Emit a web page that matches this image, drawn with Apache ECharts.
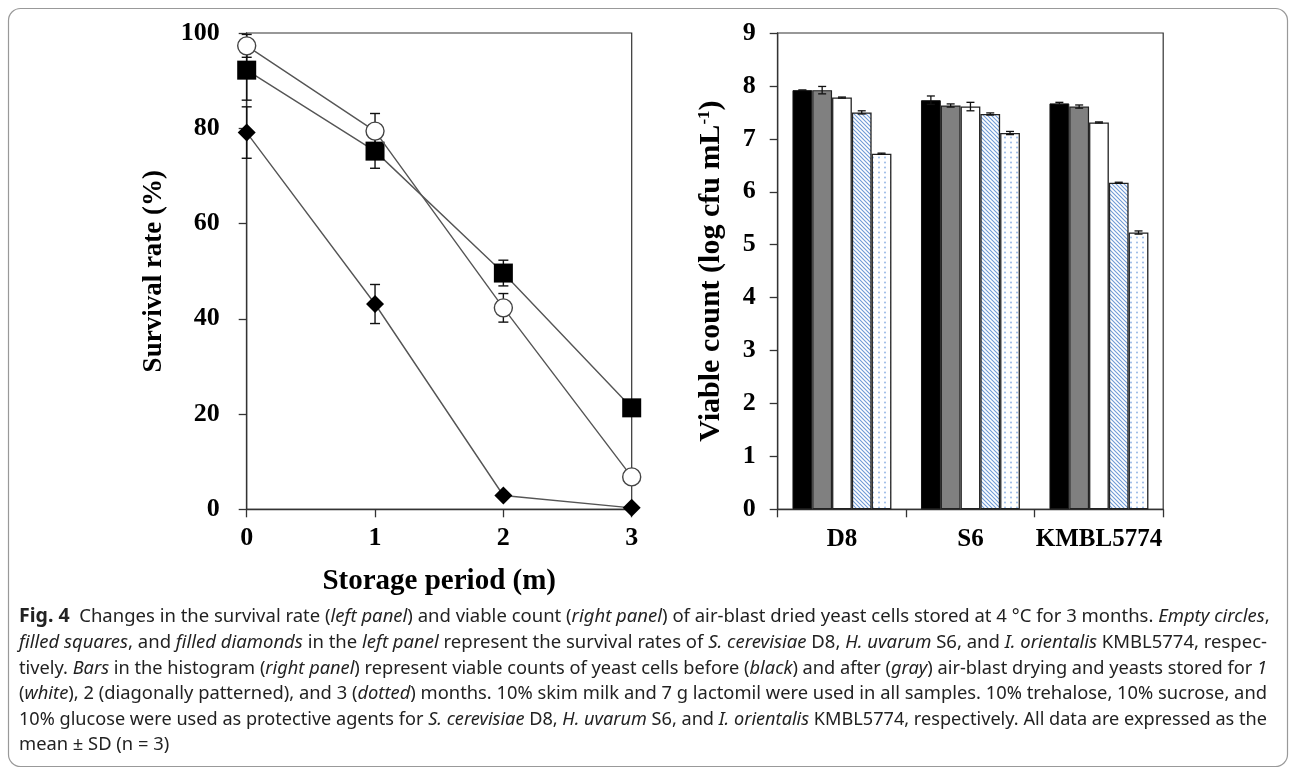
<!DOCTYPE html>
<html><head><meta charset="utf-8">
<script src="https://cdn.jsdelivr.net/npm/echarts@6/dist/echarts.min.js"></script>
<style>html,body{margin:0;padding:0;background:#fff}#c{width:1295px;height:774px}</style>
</head><body><div id="c"></div>
<script>
// ---- Left panel data (survival rate, %) ----
const months = [0, 1, 2, 3];
const survivalD8 = [97.3, 79.4, 42.3, 6.8];      // empty circles
const survivalD8Err = [2.4, 3.7, 3.0, 0.4];
const survivalS6 = [92.2, 75.2, 49.6, 21.3];     // filled squares
const survivalS6Err = [6.3, 3.6, 2.7, 0.4];
const survivalKMBL = [79.1, 43.1, 2.9, 0.3];     // filled diamonds
const survivalKMBLErr = [5.4, 4.1, 0.5, 0.3];
const survivalTicks = [0, 20, 40, 60, 80, 100];

// ---- Right panel data (viable count, log cfu/mL) ----
const strains = ['D8', 'S6', 'KMBL5774'];
const countBefore = [7.92, 7.73, 7.67];
const countBeforeErr = [0.00, 0.08, 0.02];
const countAfter = [7.92, 7.63, 7.61];
const countAfterErr = [0.07, 0.03, 0.03];
const countMonth1 = [7.78, 7.61, 7.31];
const countMonth1Err = [0.01, 0.08, 0.01];
const countMonth2 = [7.50, 7.47, 6.17];
const countMonth2Err = [0.03, 0.02, 0.01];
const countMonth3 = [6.72, 7.11, 5.23];
const countMonth3Err = [0.01, 0.03, 0.03];

// ---- Caption ----
const captionLines = [
  '{b|Fig. 4}  Changes in the survival rate ({i|left panel}) and viable count ({i|right panel}) of air-blast dried yeast cells stored at 4 °C for 3 months. {i|Empty circles},',
  '{i|filled squares}, and {i|filled diamonds} in the {i|left panel} represent the survival rates of {i|S. cerevisiae} D8, {i|H. uvarum} S6, and {i|I. orientalis} KMBL5774, respec-',
  'tively. {i|Bars} in the histogram ({i|right panel}) represent viable counts of yeast cells before ({i|black}) and after ({i|gray}) air-blast drying and yeasts stored for {i|1}',
  '({i|white}), 2 (diagonally patterned), and 3 ({i|dotted}) months. 10% skim milk and 7 g lactomil were used in all samples. 10% trehalose, 10% sucrose, and',
  '10% glucose were used as protective agents for {i|S. cerevisiae} D8, {i|H. uvarum} S6, and {i|I. orientalis} KMBL5774, respectively. All data are expressed as the',
  'mean ± SD (n = 3)'
];

const SERIF = '"Liberation Serif", "Times New Roman", serif';
const SANS = '"Noto Sans", "Open Sans", sans-serif';
const CAP_SIZE = 18;

function makePattern(kind) {
  const c = document.createElement('canvas');
  const ctx = c.getContext('2d');
  if (kind === 'hatch') {
    c.width = 4; c.height = 4;
    ctx.fillStyle = '#fff'; ctx.fillRect(0, 0, 4, 4);
    ctx.strokeStyle = '#6f9ad6'; ctx.lineWidth = 1.1;
    ctx.beginPath();
    ctx.moveTo(-1, -1); ctx.lineTo(5, 5);
    ctx.moveTo(-1, 3); ctx.lineTo(1, 5);
    ctx.moveTo(3, -1); ctx.lineTo(5, 1);
    ctx.stroke();
  } else {
    c.width = 6; c.height = 5;
    ctx.fillStyle = '#fff'; ctx.fillRect(0, 0, 6, 5);
    ctx.fillStyle = '#8fb2e4';
    ctx.beginPath(); ctx.arc(3, 2.5, 0.9, 0, Math.PI * 2); ctx.fill();
  }
  return { image: c, repeat: 'repeat' };
}

const chart = echarts.init(document.getElementById('c'), null, { renderer: 'canvas' });

const axisLabelStyle = { color: '#000', fontFamily: SERIF, fontWeight: 'bold', fontSize: 26 };
const axisLineStyle = { color: '#333', width: 1.3 };

function pairs(xs, ys) { return xs.map((x, i) => [x, ys[i]]); }
function errData(xs, ys, es) { return xs.map((x, i) => [x, ys[i] - es[i], ys[i] + es[i]]); }

function errRenderLeft(params, api) {
  const x = api.value(0);
  const lo = api.coord([x, api.value(1)]);
  const hi = api.coord([x, api.value(2)]);
  const w = 5;
  const st = { stroke: '#111', lineWidth: 1.4 };
  return { type: 'group', children: [
    { type: 'line', shape: { x1: lo[0], y1: lo[1], x2: hi[0], y2: hi[1] }, style: st },
    { type: 'line', shape: { x1: lo[0] - w, y1: lo[1], x2: lo[0] + w, y2: lo[1] }, style: st },
    { type: 'line', shape: { x1: hi[0] - w, y1: hi[1], x2: hi[0] + w, y2: hi[1] }, style: st }
  ]};
}

function errRenderRight(idx) {
  return function (params, api) {
    const cat = api.value(0);
    const lo = api.coord([cat, api.value(1)]);
    const hi = api.coord([cat, api.value(2)]);
    const band = api.size([1, 0])[0];
    const barW = band * 0.77 / 5;
    const cx = lo[0] + (idx - 2) * barW;
    const w = 4;
    const st = { stroke: '#111', lineWidth: 1.3 };
    return { type: 'group', children: [
      { type: 'line', shape: { x1: cx, y1: lo[1], x2: cx, y2: hi[1] }, style: st },
      { type: 'line', shape: { x1: cx - w, y1: lo[1], x2: cx + w, y2: lo[1] }, style: st },
      { type: 'line', shape: { x1: cx - w, y1: hi[1], x2: cx + w, y2: hi[1] }, style: st }
    ]};
  };
}

// caption graphics with horizontal fit
const mctx = document.createElement('canvas').getContext('2d');
function measureLine(line) {
  let total = 0;
  const re = /\{(\w)\|([^}]*)\}/g;
  let last = 0, m;
  const segs = [];
  while ((m = re.exec(line)) !== null) {
    if (m.index > last) segs.push(['n', line.slice(last, m.index)]);
    segs.push([m[1], m[2]]);
    last = re.lastIndex;
  }
  if (last < line.length) segs.push(['n', line.slice(last)]);
  segs.forEach(([k, t]) => {
    const style = k === 'i' ? 'italic ' : (k === 'b' ? 'bold ' : '');
    mctx.font = style + CAP_SIZE + 'px ' + SANS;
    total += mctx.measureText(t).width;
  });
  return total;
}
const capYs = [617, 643, 668.5, 694, 720, 745];
const capTarget = 1248;
const capScales = captionLines.map((line, i) => i < 5 ? capTarget / measureLine(line) : null);
const avgScale = capScales.slice(0, 5).reduce((a, b) => a + b, 0) / 5;
const captionGraphics = captionLines.map((line, i) => {
  const sx = capScales[i] || avgScale;
  return {
    type: 'text', x: 19, y: capYs[i], scaleX: sx, scaleY: 1,
    style: {
      text: line, fill: '#222', fontFamily: SANS, fontSize: CAP_SIZE,
      verticalAlign: 'middle', align: 'left',
      rich: {
        i: { fontStyle: 'italic', fontFamily: SANS, fontSize: CAP_SIZE, fill: '#222' },
        b: { fontWeight: 'bold', fontFamily: SANS, fontSize: CAP_SIZE + 1, fill: '#222' }
      }
    }
  };
});

const option = {
  animation: false,
  backgroundColor: '#fff',
  grid: [
    { left: 246.7, top: 33, width: 385, height: 476.3, show: true, borderColor: '#333', borderWidth: 1.2, backgroundColor: 'transparent' },
    { left: 777.7, top: 33, width: 385.5, height: 476.3, show: true, borderColor: '#333', borderWidth: 1.2, backgroundColor: 'transparent' }
  ],
  xAxis: [
    { gridIndex: 0, type: 'value', min: 0, max: 3, interval: 1,
      axisLine: { lineStyle: axisLineStyle }, axisTick: { show: true, length: 8, inside: false, lineStyle: axisLineStyle },
      axisLabel: Object.assign({ margin: 16 }, axisLabelStyle), splitLine: { show: false },
      name: 'Storage period (m)', nameLocation: 'middle', nameGap: 58,
      nameTextStyle: { color: '#000', fontFamily: SERIF, fontWeight: 'bold', fontSize: 29 } },
    { gridIndex: 1, type: 'category', data: strains,
      axisLine: { lineStyle: axisLineStyle }, axisTick: { show: true, length: 8, lineStyle: axisLineStyle },
      axisLabel: Object.assign({ margin: 18, interval: 0 }, axisLabelStyle, { fontSize: 25 }), splitLine: { show: false } }
  ],
  yAxis: [
    { gridIndex: 0, type: 'value', min: 0, max: 100, interval: 20,
      axisLine: { show: true, lineStyle: axisLineStyle }, axisTick: { show: true, length: 8, lineStyle: axisLineStyle },
      axisLabel: Object.assign({ margin: 27 }, axisLabelStyle), splitLine: { show: false },
      name: 'Survival rate (%)', nameLocation: 'middle', nameGap: 79,
      nameTextStyle: { color: '#000', fontFamily: SERIF, fontWeight: 'bold', fontSize: 27 } },
    { gridIndex: 1, type: 'value', min: 0, max: 9, interval: 1,
      axisLine: { show: true, lineStyle: axisLineStyle }, axisTick: { show: true, length: 8, lineStyle: axisLineStyle },
      axisLabel: Object.assign({ margin: 22 }, axisLabelStyle), splitLine: { show: false },
      name: 'Viable count (log cfu mL{sup|-1})', nameLocation: 'middle', nameGap: 50,
      nameTextStyle: { color: '#000', fontFamily: SERIF, fontWeight: 'bold', fontSize: 30, lineHeight: 32,
        rich: { sup: { color: '#000', fontFamily: SERIF, fontWeight: 'bold', fontSize: 17, verticalAlign: 'top', lineHeight: 32 } } } }
  ],
  series: [
    // error bars (left)
    { type: 'custom', xAxisIndex: 0, yAxisIndex: 0, z: 1, renderItem: errRenderLeft, data: errData(months, survivalS6, survivalS6Err) },
    { type: 'custom', xAxisIndex: 0, yAxisIndex: 0, z: 1, renderItem: errRenderLeft, data: errData(months, survivalD8, survivalD8Err) },
    { type: 'custom', xAxisIndex: 0, yAxisIndex: 0, z: 1, renderItem: errRenderLeft, data: errData(months, survivalKMBL, survivalKMBLErr) },
    // lines
    { type: 'line', xAxisIndex: 0, yAxisIndex: 0, z: 3, data: pairs(months, survivalKMBL),
      symbol: 'diamond', symbolSize: [18, 18], lineStyle: { color: '#555', width: 1.4 },
      itemStyle: { color: '#000', borderColor: '#000', borderWidth: 0 } },
    { type: 'line', xAxisIndex: 0, yAxisIndex: 0, z: 3, data: pairs(months, survivalS6),
      symbol: 'rect', symbolSize: 19, lineStyle: { color: '#555', width: 1.4 },
      itemStyle: { color: '#000', borderColor: '#000', borderWidth: 0 } },
    { type: 'line', xAxisIndex: 0, yAxisIndex: 0, z: 4, data: pairs(months, survivalD8),
      symbol: 'circle', symbolSize: 18, lineStyle: { color: '#555', width: 1.4 },
      itemStyle: { color: '#fff', borderColor: '#444', borderWidth: 1.4 } },
    // bars (right)
    { type: 'bar', xAxisIndex: 1, yAxisIndex: 1, data: countBefore, barGap: '0%', barCategoryGap: '23%',
      itemStyle: { color: '#000', borderColor: '#111', borderWidth: 1 } },
    { type: 'bar', xAxisIndex: 1, yAxisIndex: 1, data: countAfter, barGap: '0%', barCategoryGap: '23%',
      itemStyle: { color: '#808080', borderColor: '#222', borderWidth: 1.2 } },
    { type: 'bar', xAxisIndex: 1, yAxisIndex: 1, data: countMonth1, barGap: '0%', barCategoryGap: '23%',
      itemStyle: { color: '#fff', borderColor: '#222', borderWidth: 1.3 } },
    { type: 'bar', xAxisIndex: 1, yAxisIndex: 1, data: countMonth2, barGap: '0%', barCategoryGap: '23%',
      itemStyle: { color: makePattern('hatch'), borderColor: '#222', borderWidth: 1.3 } },
    { type: 'bar', xAxisIndex: 1, yAxisIndex: 1, data: countMonth3, barGap: '0%', barCategoryGap: '23%',
      itemStyle: { color: makePattern('dots'), borderColor: '#222', borderWidth: 1.3 } },
    // error bars (right)
    { type: 'custom', xAxisIndex: 1, yAxisIndex: 1, z: 5, renderItem: errRenderRight(0), data: errData([0, 1, 2], countBefore, countBeforeErr) },
    { type: 'custom', xAxisIndex: 1, yAxisIndex: 1, z: 5, renderItem: errRenderRight(1), data: errData([0, 1, 2], countAfter, countAfterErr) },
    { type: 'custom', xAxisIndex: 1, yAxisIndex: 1, z: 5, renderItem: errRenderRight(2), data: errData([0, 1, 2], countMonth1, countMonth1Err) },
    { type: 'custom', xAxisIndex: 1, yAxisIndex: 1, z: 5, renderItem: errRenderRight(3), data: errData([0, 1, 2], countMonth2, countMonth2Err) },
    { type: 'custom', xAxisIndex: 1, yAxisIndex: 1, z: 5, renderItem: errRenderRight(4), data: errData([0, 1, 2], countMonth3, countMonth3Err) }
  ],
  graphic: [
    { type: 'rect', shape: { x: 8.5, y: 8.5, width: 1279, height: 758, r: 12 }, silent: true,
      style: { fill: 'none', stroke: '#999', lineWidth: 1.2 }, z: -1 }
  ].concat(captionGraphics)
};
chart.setOption(option);
</script>
</body></html>
